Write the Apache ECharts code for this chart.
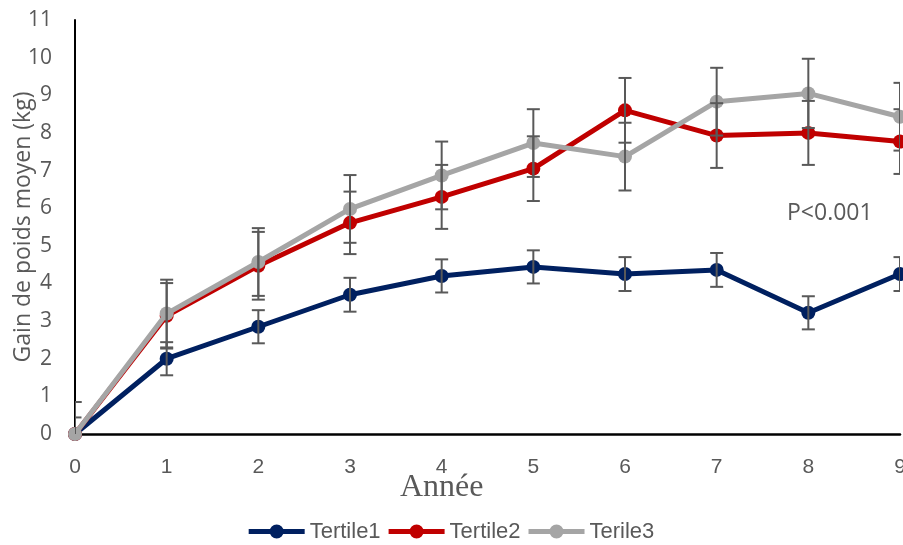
<!DOCTYPE html>
<html><head><meta charset="utf-8">
<script src="https://cdn.jsdelivr.net/npm/echarts@6/dist/echarts.min.js"></script>
<style>html,body{margin:0;padding:0;background:#fff}#c{width:903px;height:545px}</style>
</head><body><div id="c"></div>
<script>
var years = [0,1,2,3,4,5,6,7,8,9];
var seriesNames = ['Tertile1','Tertile2','Terile3'];
var tertile1 = [0, 2.0, 2.85, 3.7, 4.2, 4.44, 4.25, 4.36, 3.22, 4.25];
var tertile2 = [0, 3.14, 4.47, 5.61, 6.3, 7.05, 8.6, 7.93, 8.0, 7.77];
var tertile3 = [0, 3.2, 4.57, 5.98, 6.87, 7.73, 7.37, 8.83, 9.05, 8.43];
var err1 = [0.44, 0.44, 0.44, 0.45, 0.44, 0.44, 0.45, 0.45, 0.44, 0.45];
var err2 = [0.85, 0.87, 0.9, 0.83, 0.85, 0.86, 0.86, 0.86, 0.85, 0.86];
var err3 = [0.85, 0.9, 0.9, 0.9, 0.9, 0.9, 0.9, 0.9, 0.92, 0.9];
var colors = ['#002060', '#C00000', '#A5A5A5'];

var chart = echarts.init(document.getElementById('c'));
var txt = '#595959';
var narrow = "'Liberation Sans Narrow','Liberation Sans',sans-serif";
var legendIcon = 'path://M0,10 L56,10 L56,15 L0,15 Z M21,12.5 A7,7 0 1,1 35,12.5 A7,7 0 1,1 21,12.5 Z M0,0 L0.01,0 L0.01,0.01 Z M0,25 L0.01,25 L0.01,24.99 Z';

function lineSeries(name, vals, color, z) {
  return {
    name: name, type: 'line', z: z,
    data: years.map(function(x,i){ return [x, vals[i]]; }),
    symbol: 'circle', symbolSize: 14,
    lineStyle: {color: color, width: 5},
    itemStyle: {color: color},
    emphasis: {disabled: true},
    animation: false
  };
}
function errSeries(vals, errs) {
  return {
    type: 'custom', z: 10, silent: true, animation: false,
    data: years.map(function(x,i){ return [x, vals[i] - errs[i], vals[i] + errs[i]]; }),
    renderItem: function(params, api) {
      var cs = params.coordSys;
      var lo = api.coord([api.value(0), api.value(1)]);
      var hi = api.coord([api.value(0), api.value(2)]);
      var hw = 6.5;
      var st = {stroke: '#595959', lineWidth: 2, fill: null};
      return {type: 'group',
        clipPath: {type: 'rect', shape: {x: cs.x, y: cs.y, width: cs.width, height: cs.height}},
        children: [
        {type: 'line', shape: {x1: lo[0], y1: lo[1], x2: hi[0], y2: hi[1]}, style: st},
        {type: 'line', shape: {x1: lo[0]-hw, y1: lo[1], x2: lo[0]+hw, y2: lo[1]}, style: st},
        {type: 'line', shape: {x1: hi[0]-hw, y1: hi[1], x2: hi[0]+hw, y2: hi[1]}, style: st}
      ]};
    }
  };
}

chart.setOption({
  animation: false,
  backgroundColor: '#fff',
  grid: {left: 75, right: 3, top: 20, bottom: 111, outerBoundsMode: 'none', containLabel: false},
  xAxis: {
    type: 'value', min: 0, max: 9, interval: 1,
    axisLine: {lineStyle: {color: '#000', width: 2.5}},
    axisTick: {show: false}, splitLine: {show: false},
    axisLabel: {color: txt, fontSize: 21, fontFamily: narrow, margin: 23}
  },
  yAxis: {
    type: 'value', min: 0, max: 11, interval: 1,
    name: 'Gain de poids moyen (kg)', nameLocation: 'middle', nameGap: 40, nameMoveOverlap: false,
    nameTextStyle: {color: txt, fontSize: 23, fontFamily: "'Open Sans','Liberation Sans',sans-serif"},
    axisLine: {show: true, lineStyle: {color: '#000', width: 2}},
    axisTick: {show: false}, splitLine: {show: false},
    axisLabel: {color: txt, fontSize: 21, fontFamily: "'Open Sans',sans-serif", margin: 23}
  },
  legend: {
    top: 519, left: 'center', itemWidth: 56, itemHeight: 25, itemGap: 8, padding: 0,
    textStyle: {color: txt, fontSize: 22, fontFamily: narrow},
    data: seriesNames.map(function(n){ return {name: n, icon: legendIcon}; })
  },
  graphic: [
    {type: 'text', left: 400, top: 472, style: {text: 'Année', fill: txt, font: "32px 'Liberation Serif', serif"}},
    {type: 'text', left: 787, top: 202, style: {text: 'P<0.001', fill: txt, font: "23px 'Open Sans', sans-serif"}}
  ],
  series: [
    lineSeries(seriesNames[0], tertile1, colors[0], 2),
    lineSeries(seriesNames[1], tertile2, colors[1], 3),
    lineSeries(seriesNames[2], tertile3, colors[2], 4),
    errSeries(tertile1, err1),
    errSeries(tertile2, err2),
    errSeries(tertile3, err3)
  ]
});
</script></body></html>
